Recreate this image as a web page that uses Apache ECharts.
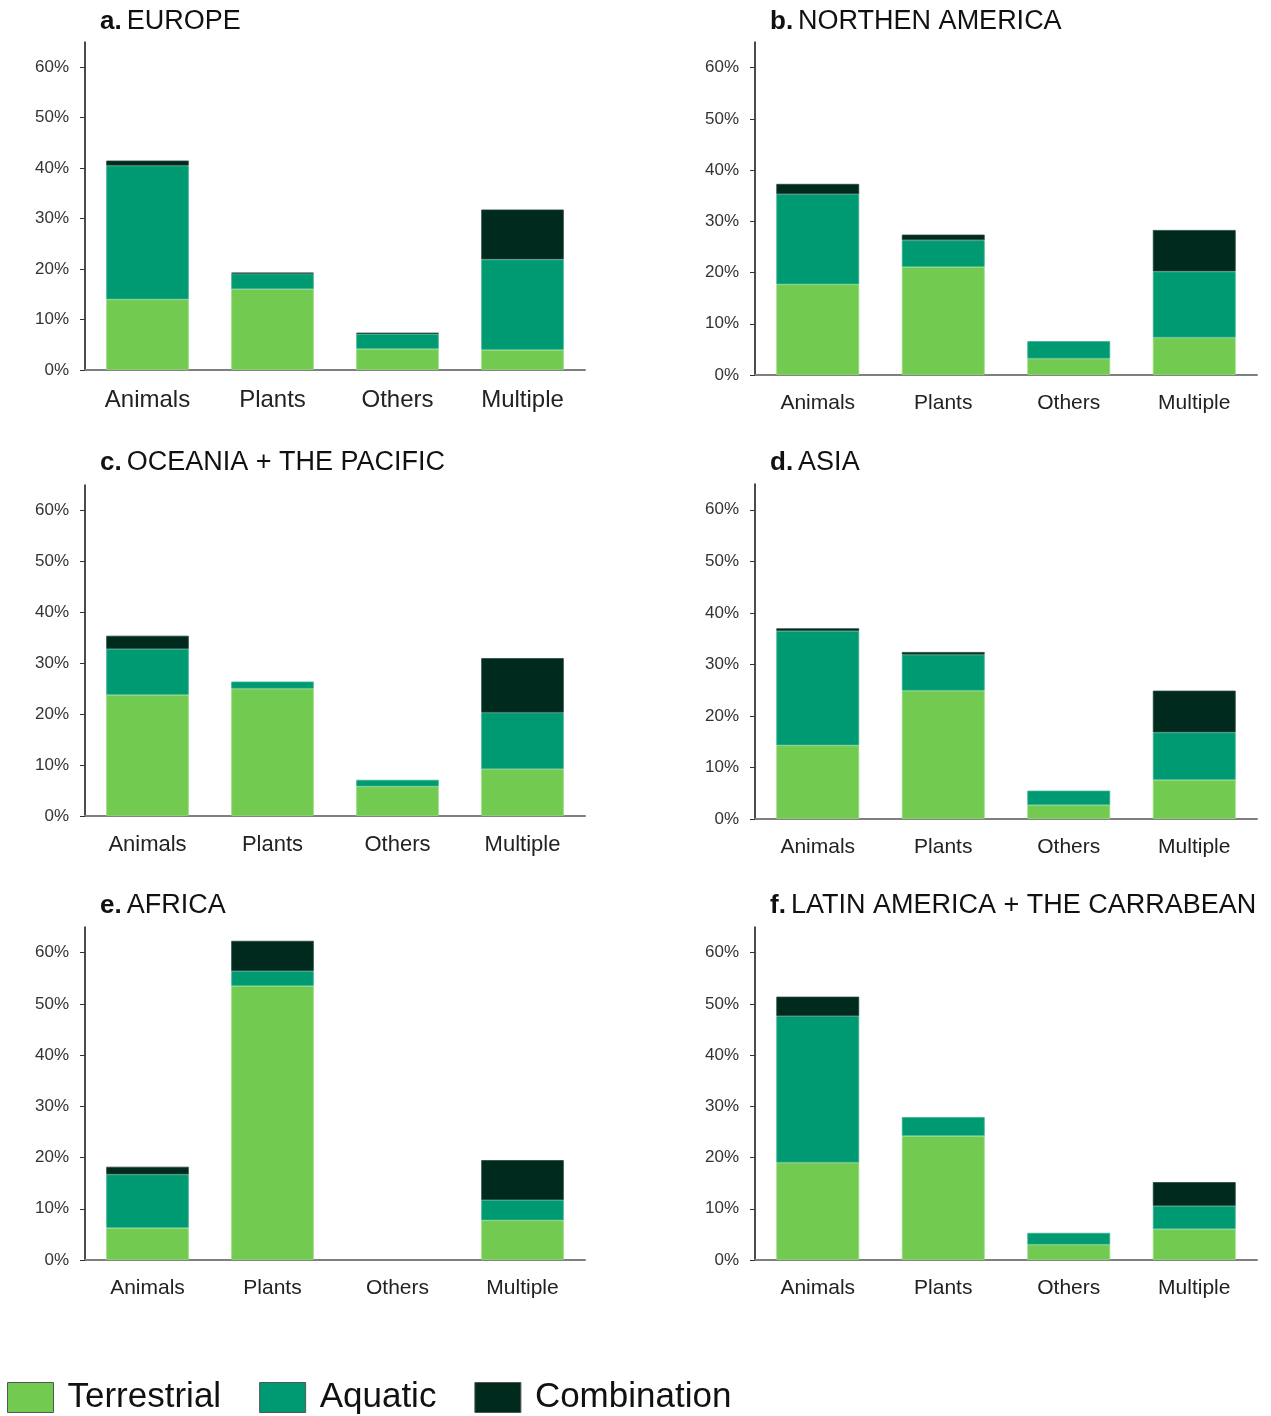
<!DOCTYPE html>
<html>
<head>
<meta charset="utf-8">
<title>Habitat of species by region</title>
<script src="https://cdn.jsdelivr.net/npm/echarts@6/dist/echarts.min.js"></script>
<style>
  html, body { margin: 0; padding: 0; background: #fff; }
  #chart { width: 1271px; height: 1416px; }
</style>
</head>
<body>
<div id="chart"></div>
<script>
// Categories and stacked shares (%) per region
const categories = ['Animals', 'Plants', 'Others', 'Multiple'];
const yTicks = [0, 10, 20, 30, 40, 50, 60];

const europeTerrestrial = [14.0, 16.0, 4.2, 4.0];
const europeAquatic     = [26.5, 3.1, 2.95, 17.9];
const europeCombination = [1.0, 0.2, 0.25, 9.9];

const northAmTerrestrial = [17.7, 21.1, 3.2, 7.3];
const northAmAquatic     = [17.6, 5.2, 3.4, 12.9];
const northAmCombination = [2.0, 1.1, 0, 8.1];

const oceaniaTerrestrial = [23.8, 25.0, 5.8, 9.2];
const oceaniaAquatic     = [9.0, 1.4, 1.3, 11.1];
const oceaniaCombination = [2.6, 0, 0, 10.7];

const asiaTerrestrial = [14.3, 24.9, 2.7, 7.6];
const asiaAquatic     = [22.2, 7.0, 2.8, 9.2];
const asiaCombination = [0.5, 0.5, 0, 8.1];

const africaTerrestrial = [6.25, 53.5, 0, 7.75];
const africaAquatic     = [10.45, 2.9, 0, 3.95];
const africaCombination = [1.5, 5.9, 0, 7.8];

const latamTerrestrial = [19.0, 24.2, 3.0, 6.0];
const latamAquatic     = [28.6, 3.7, 2.3, 4.55];
const latamCombination = [3.8, 0, 0, 4.65];

const panelLetters = ['a.', 'b.', 'c.', 'd.', 'e.', 'f.'];
const panelNames = ['EUROPE', 'NORTHEN AMERICA', 'OCEANIA + THE PACIFIC', 'ASIA', 'AFRICA', 'LATIN AMERICA + THE CARRABEAN'];
const seriesNames = ['Terrestrial', 'Aquatic', 'Combination'];

const panelData = [
  [europeTerrestrial, europeAquatic, europeCombination],
  [northAmTerrestrial, northAmAquatic, northAmCombination],
  [oceaniaTerrestrial, oceaniaAquatic, oceaniaCombination],
  [asiaTerrestrial, asiaAquatic, asiaCombination],
  [africaTerrestrial, africaAquatic, africaCombination],
  [latamTerrestrial, latamAquatic, latamCombination]
];

const colors = ['#72cb50', '#009a72', '#012a1e'];
const edgeColors = ['#93da77', '#3cb18f', '#24483d'];

// Panel frames (plot area boxes)
const frames = [
  { left: 85,  top: 42,  width: 500, height: 328, titleTop: 8,   labelSize: 24 },
  { left: 755, top: 42,  width: 502, height: 333, titleTop: 8,   labelSize: 21 },
  { left: 85,  top: 485, width: 500, height: 331, titleTop: 449, labelSize: 22 },
  { left: 755, top: 484, width: 502, height: 335, titleTop: 449, labelSize: 21 },
  { left: 85,  top: 927, width: 500, height: 333, titleTop: 892, labelSize: 21 },
  { left: 755, top: 927, width: 502, height: 333, titleTop: 892, labelSize: 21 }
];

const fontFamily = '"Liberation Sans", Arial, sans-serif';

const grids = [], xAxes = [], yAxes = [], titles = [], series = [];

frames.forEach((f, i) => {
  grids.push({ left: f.left, top: f.top, width: f.width, height: f.height, containLabel: false });
  titles.push({
    text: '{b|' + panelLetters[i] + '} {n|' + panelNames[i] + '}',
    left: f.left + 15,
    top: f.titleTop,
    padding: 0,
    textStyle: {
      fontWeight: 'normal',
      rich: {
        b: { fontFamily, fontSize: 26, fontWeight: 'bold', color: '#111' },
        n: { fontFamily, fontSize: 27, fontWeight: 'normal', color: '#111' }
      }
    }
  });
  xAxes.push({
    type: 'category',
    gridIndex: i,
    data: categories,
    axisLine: { lineStyle: { color: '#7f7f7f', width: 2 } },
    axisTick: { show: false },
    axisLabel: { fontFamily, fontSize: f.labelSize, color: '#222', margin: 18 }
  });
  yAxes.push({
    type: 'value',
    gridIndex: i,
    min: 0,
    max: 65,
    interval: 10,
    splitLine: { show: false },
    axisLine: { show: true, lineStyle: { color: '#111', width: 1.5 } },
    axisTick: { show: true, length: 5, lineStyle: { color: '#333' }, customValues: yTicks },
    axisLabel: {
      fontFamily, fontSize: 17, color: '#333', margin: 16,
      customValues: yTicks,
      formatter: v => v + '%'
    }
  });
  panelData[i].forEach((vals, s) => {
    series.push({
      name: seriesNames[s],
      type: 'bar',
      xAxisIndex: i,
      yAxisIndex: i,
      stack: 'panel' + i,
      barWidth: '66%',
      // empty segments are left out so no outline is drawn for them
      data: vals.map(v => (v === 0 ? null : v)),
      itemStyle: { color: colors[s], borderColor: edgeColors[s], borderWidth: 0.8 },
      emphasis: { disabled: true }
    });
  });
});

const chart = echarts.init(document.getElementById('chart'), null, { renderer: 'canvas' });
chart.setOption({
  animation: false,
  backgroundColor: '#fff',
  title: titles,
  grid: grids,
  xAxis: xAxes,
  yAxis: yAxes,
  legend: {
    data: seriesNames,
    left: 7,
    top: 1380,
    padding: 0,
    icon: 'rect',
    itemWidth: 46,
    itemHeight: 30,
    itemGap: 38,
    itemStyle: { borderColor: '#555', borderWidth: 1 },
    textStyle: { fontFamily, fontSize: 35, color: '#111', padding: [0, 0, 0, 9] },
    selectedMode: false
  },
  series
});
</script>
</body>
</html>
